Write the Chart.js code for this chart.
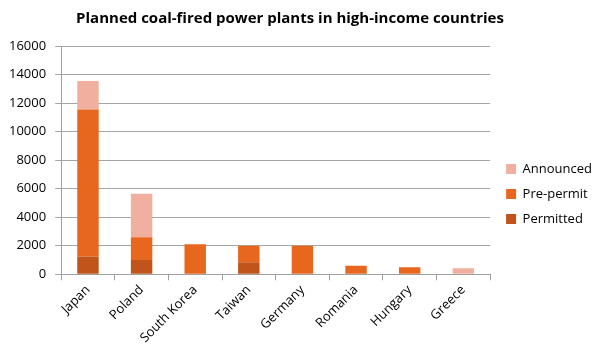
<!DOCTYPE html>
<html>
<head>
<meta charset="utf-8">
<script src="https://cdn.jsdelivr.net/npm/chart.js@4"></script>
<style>
html,body{margin:0;padding:0;background:#fff;}
#wrap{width:600px;height:357px;}
</style>
</head>
<body>
<div id="wrap"><canvas id="c" width="600" height="357"></canvas></div>
<script>
const categories = ["Japan","Poland","South Korea","Taiwan","Germany","Romania","Hungary","Greece"];
const permitted = [1250, 1000, 0, 850, 0, 0, 0, 0];
const prePermit = [10300, 1600, 2100, 1150, 2000, 600, 500, 0];
const announced = [2000, 3050, 0, 0, 0, 0, 0, 420];
const yTicks = [0,2000,4000,6000,8000,10000,12000,14000,16000];

const FONT = "'Open Sans', sans-serif";
Chart.defaults.font.family = FONT;
Chart.defaults.color = '#000';

const nudge = {
  id:'nudge',
  afterLayout(chart){
    if (chart.legend){ chart.legend.top += 20; chart.legend.bottom += 20; chart.legend.left += 4; chart.legend.right += 4; }
    if (chart.titleBlock){ chart.titleBlock.left -= 9; chart.titleBlock.right -= 9; }
  }
};

new Chart(document.getElementById('c'), {
  type: 'bar',
  data: {
    labels: categories,
    datasets: [
      {label:'Permitted', data: permitted, backgroundColor:'#C1541B'},
      {label:'Pre-permit', data: prePermit, backgroundColor:'#E8671F'},
      {label:'Announced', data: announced, backgroundColor:'#F1B09F'}
    ]
  },
  plugins:[nudge],
  options: {
    responsive:false,
    animation:false,
    layout:{padding:{left:0,right:2,top:0,bottom:9}},
    datasets:{bar:{categoryPercentage:0.8, barPercentage:0.5}},
    plugins:{
      title:{display:true,text:'Planned coal-fired power plants in high-income countries',
        font:{size:15,weight:'bold'},color:'#000',padding:{top:10,bottom:18}},
      legend:{position:'right',reverse:true,
        labels:{boxWidth:10,boxHeight:10,padding:12,font:{size:13},color:'#000'}},
      tooltip:{enabled:false}
    },
    scales:{
      x:{stacked:true,
        grid:{display:true,drawOnChartArea:false,tickLength:6,color:'#a0a0a0',offset:true},
        border:{color:'#a0a0a0'},
        ticks:{maxRotation:45,minRotation:45,font:{size:13},color:'#000',padding:2}},
      y:{stacked:true,min:0,max:16000,
        afterBuildTicks:(s)=>{s.ticks=yTicks.map(v=>({value:v}));},
        grid:{color:'#a6a6a6',tickLength:6},
        border:{color:'#a0a0a0'},
        ticks:{font:{size:13},color:'#000',padding:9,callback:(v)=>String(v)}}
    }
  }
});
</script>
</body>
</html>
